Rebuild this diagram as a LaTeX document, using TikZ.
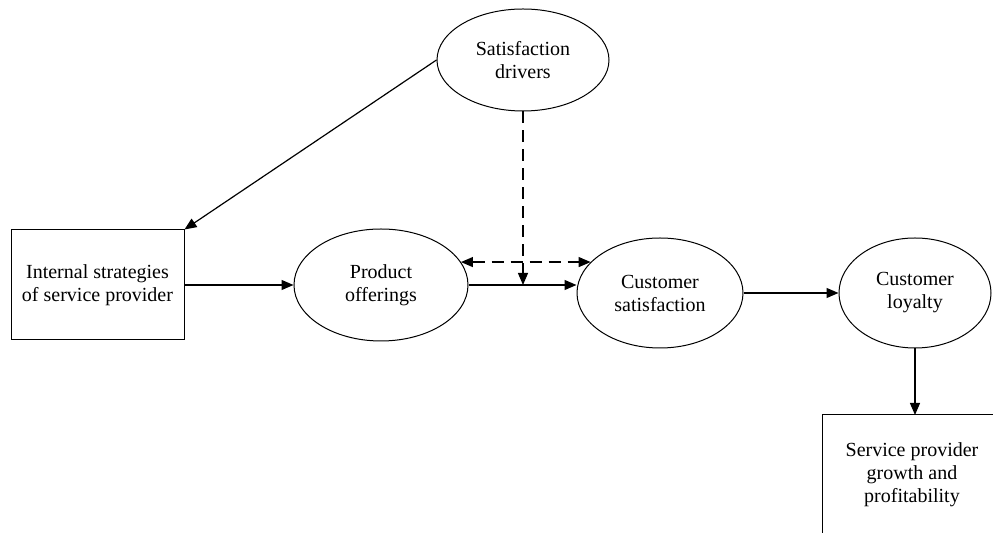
\documentclass[tikz,border=0pt]{standalone}
\usepackage{fontspec}
\setmainfont{Liberation Serif}
\usetikzlibrary{arrows.meta,shapes.geometric}
\begin{document}
\begin{tikzpicture}[x=0.5pt,y=-0.5pt,
  every node/.style={font=\fontsize{10pt}{11.5pt}\selectfont, align=center, inner sep=0pt},
  oval/.style={ellipse, draw, line width=0.5pt},
  boxnode/.style={rectangle, draw, line width=0.5pt},
  conn/.style={line width=0.6pt, -{Triangle[length=6pt,width=5pt]}},
  dconn/.style={conn, dash pattern=on 6pt off 3.5pt},
  ddconn/.style={line width=0.6pt, dash pattern=on 6pt off 3.5pt, {Triangle[length=6pt,width=5pt]}-{Triangle[length=6pt,width=5pt]}}]
\useasboundingbox (0,0) rectangle (993,533);
\clip (0,0) rectangle (993,533);

\node[oval, minimum width=86pt, minimum height=51pt] (SD) at (523,60) {Satisfaction\\drivers};
\node[boxnode, minimum width=86.5pt, minimum height=55pt] (IS) at (97.5,285) {Internal strategies\\of service provider};
\node[oval, minimum width=87pt, minimum height=56pt] (PO) at (381,285) {Product\\offerings};
\node[oval, minimum width=83pt, minimum height=55pt] (CS) at (660,293) {Customer\\satisfaction};
\node[oval, minimum width=76pt, minimum height=55pt] (CL) at (915,293) {Customer\\loyalty};
\node (PG) at (912,475) {Service provider\\growth and\\profitability};

\coordinate (PGtop) at (915,415);
\draw[line width=0.5pt] (1010,415) -- (822,415) -- (822,545);

\draw[conn] (SD.west) -- (IS.north east);
\draw[conn] (IS.east) -- (PO.west);
\draw[conn] (PO.east) -- (PO.east -| CS.west);
\coordinate (J) at (SD.south |- PO.east);
\draw[dconn] (SD.south) -- (J);
\draw[ddconn] (PO.16) -- (PO.16 -| CS.156);
\draw[conn] (CS.east) -- (CL.west);
\draw[conn] (CL.south) -- (PGtop);
\end{tikzpicture}
\end{document}
